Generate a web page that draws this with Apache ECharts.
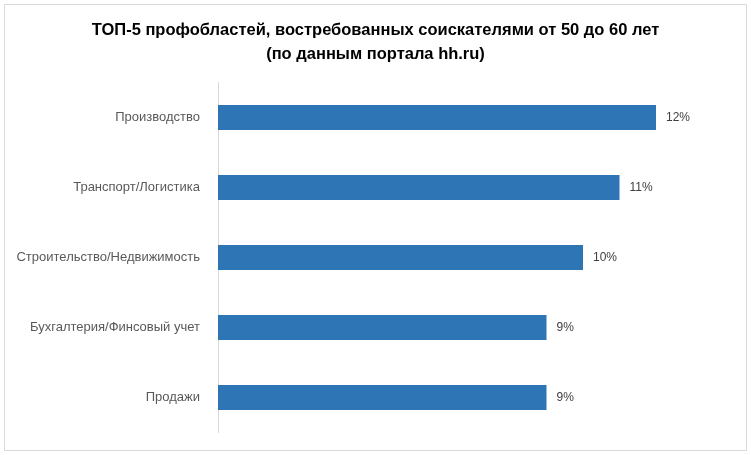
<!DOCTYPE html>
<html><head><meta charset="utf-8">
<script src="https://cdn.jsdelivr.net/npm/echarts@6/dist/echarts.min.js"></script>
<style>html,body{margin:0;padding:0;background:#fff}#c{width:751px;height:455px}</style>
</head><body><div id="c"></div>
<script>
var categories = ['Производство','Транспорт/Логистика','Строительство/Недвижимость','Бухгалтерия/Финсовый учет','Продажи'];
var values = [12, 11, 10, 9, 9];
var titleText = 'ТОП-5 профобластей, востребованных соискателями от 50 до 60 лет\n(по данным портала hh.ru)';

var chart = echarts.init(document.getElementById('c'), null, {renderer:'canvas'});
chart.setOption({
  animation:false,
  backgroundColor:'#fff',
  title:{text:titleText,left:'center',top:13,textStyle:{fontFamily:'Liberation Sans',fontWeight:'bold',fontSize:16.5,color:'#000',lineHeight:24.5}},
  graphic:[{type:'rect',shape:{x:4.5,y:4.5,width:742,height:446},style:{fill:null,stroke:'#d9d9d9',lineWidth:1},silent:true}],
  grid:{left:218,top:82.5,width:511,height:350,containLabel:false},
  xAxis:{type:'value',min:0,max:14,show:false,splitLine:{show:false}},
  yAxis:{type:'category',data:categories,inverse:true,
    axisLine:{show:true,lineStyle:{color:'#d9d9d9',width:1}},axisTick:{show:false},
    axisLabel:{margin:18,fontFamily:'Liberation Sans',fontSize:13,color:'#595959'}},
  series:[{type:'bar',data:values,barWidth:25,itemStyle:{color:'#2e75b6'},
    label:{show:true,position:'right',distance:10,formatter:'{c}%',fontFamily:'Liberation Sans',fontSize:12,color:'#404040'}}]
});
</script></body></html>
